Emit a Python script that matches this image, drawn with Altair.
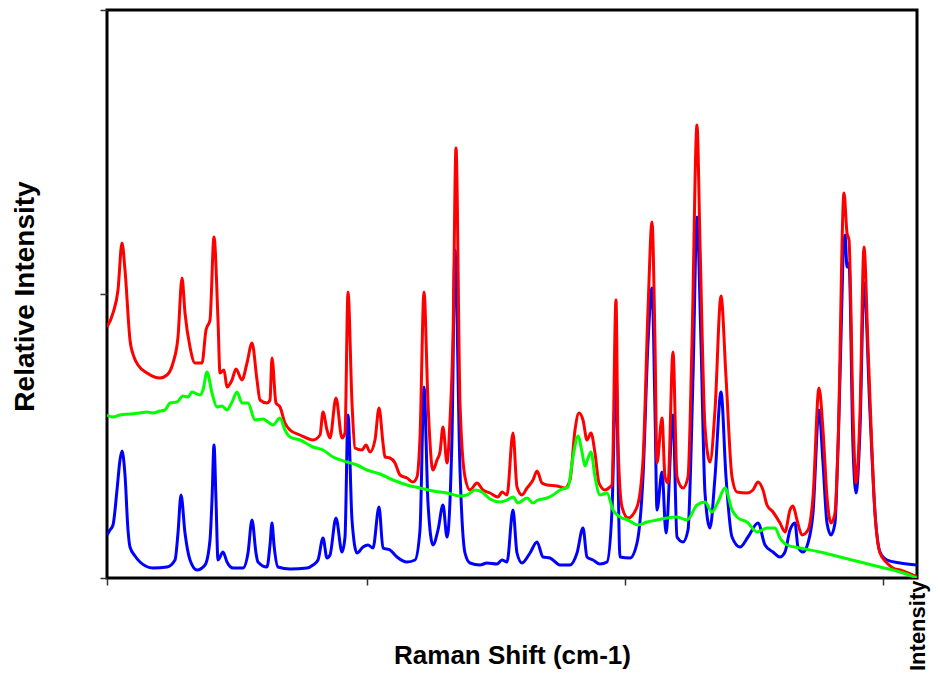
import altair as alt
import pandas as pd

# Raman shift (arbitrary units, ticks unlabeled) and relative intensity (arbitrary units)
red_shift = [0, 6, 11, 15, 18, 23, 27, 31, 40, 53, 60, 66, 71, 75, 78, 83, 88, 95, 99, 103,
             107, 111, 113, 117, 120, 125, 129, 135, 140, 145, 150, 153, 160, 163, 165, 169, 173, 178, 183, 193,
             206, 213, 216, 220, 223, 229, 235, 238, 241, 245, 248, 255, 259, 263, 268, 272, 276, 278, 283, 288,
             293, 300, 306, 310, 313, 317, 321, 325, 326, 330, 333, 336, 340, 343, 346, 349, 353, 358, 363, 370,
             376, 383, 391, 395, 400, 406, 410, 415, 420, 426, 430, 435, 440, 450, 458, 463, 468, 472, 476, 480,
             484, 488, 492, 498, 503, 505, 509, 511, 515, 521, 530, 536, 541, 545, 548, 550, 555, 558, 561, 566,
             570, 576, 581, 585, 590, 593, 598, 603, 608, 614, 619, 625, 630, 640, 646, 651, 656, 660, 666, 673,
             678, 683, 686, 690, 695, 701, 706, 712, 716, 720, 724, 728, 731, 737, 740, 742, 746, 749, 753, 757,
             761, 768, 773, 780, 786, 793, 801, 810]
red_int = [251, 265, 288, 335, 308, 238, 221, 213, 205, 200, 203, 215, 241, 300, 265, 231, 215, 215, 248, 258,
           341, 258, 205, 208, 191, 198, 209, 198, 215, 235, 198, 178, 175, 178, 220, 175, 171, 155, 148, 143,
           138, 143, 166, 148, 140, 180, 140, 145, 286, 175, 130, 128, 133, 126, 138, 170, 135, 121, 120, 115,
           103, 100, 96, 101, 141, 286, 175, 111, 108, 118, 126, 151, 115, 158, 241, 430, 175, 101, 88, 95,
           88, 85, 81, 86, 83, 145, 91, 83, 90, 98, 107, 95, 93, 92, 90, 98, 148, 165, 158, 138,
           145, 125, 95, 88, 91, 93, 278, 135, 71, 60, 71, 118, 268, 356, 235, 115, 160, 101, 95, 226,
           101, 90, 101, 235, 453, 335, 151, 116, 168, 282, 201, 101, 86, 85, 88, 96, 88, 73, 66, 55,
           46, 68, 72, 58, 43, 48, 81, 190, 148, 81, 55, 65, 131, 385, 345, 338, 165, 95, 165, 331,
           231, 65, 25, 15, 10, 8, 5, 1]

blue_shift = [0, 3, 6, 10, 13, 15, 18, 21, 23, 28, 33, 46, 60, 68, 71, 74, 78, 83, 90, 98,
              103, 105, 107, 109, 111, 116, 120, 126, 136, 141, 145, 149, 151, 160, 163, 165, 167, 171, 183, 200,
              206, 211, 216, 220, 223, 229, 235, 238, 241, 245, 250, 256, 261, 266, 272, 276, 283, 290, 300, 308,
              313, 317, 321, 326, 331, 336, 340, 345, 348, 353, 358, 363, 373, 380, 390, 395, 400, 406, 410, 415,
              423, 430, 436, 443, 453, 463, 470, 476, 480, 486, 493, 500, 505, 509, 513, 523, 530, 536, 541, 545,
              548, 550, 555, 559, 566, 570, 576, 581, 586, 590, 594, 598, 603, 608, 614, 619, 625, 633, 641, 651,
              658, 666, 673, 678, 683, 688, 691, 696, 701, 706, 712, 716, 720, 724, 728, 731, 738, 740, 742, 746,
              749, 753, 757, 763, 768, 773, 780, 793, 810]
blue_int = [43, 48, 53, 88, 118, 127, 103, 48, 31, 22, 16, 10, 11, 18, 45, 83, 45, 18, 8, 13,
            38, 78, 133, 78, 18, 26, 16, 10, 10, 25, 58, 25, 16, 11, 33, 55, 33, 11, 9, 10,
            13, 18, 40, 20, 23, 60, 26, 41, 163, 58, 25, 31, 33, 30, 71, 30, 28, 21, 16, 18,
            48, 191, 75, 33, 48, 73, 41, 141, 328, 108, 25, 15, 13, 15, 14, 18, 16, 68, 25, 15,
            25, 36, 21, 20, 13, 13, 25, 50, 21, 18, 14, 16, 68, 205, 21, 20, 35, 101, 235, 290,
            168, 68, 106, 45, 163, 41, 36, 48, 201, 361, 235, 85, 50, 101, 186, 101, 41, 31, 41, 55,
            33, 26, 21, 26, 48, 55, 31, 26, 35, 65, 168, 115, 55, 43, 55, 131, 343, 311, 315, 131,
            85, 148, 295, 165, 65, 26, 18, 15, 13]

green_shift = [0, 6, 13, 23, 33, 40, 46, 53, 58, 63, 70, 76, 81, 85, 93, 96, 100, 105, 110, 115,
               120, 125, 130, 135, 141, 148, 156, 161, 166, 173, 178, 183, 193, 206, 216, 226, 240, 250, 260, 273,
               286, 300, 313, 326, 340, 353, 360, 368, 375, 383, 393, 400, 406, 411, 420, 426, 431, 440, 446, 453,
               461, 466, 471, 475, 478, 481, 484, 488, 493, 500, 506, 513, 521, 531, 540, 550, 560, 570, 580, 590,
               598, 605, 611, 618, 625, 631, 640, 650, 660, 668, 673, 680, 693, 713, 733, 753, 773, 793, 810]
green_int = [163, 161, 163, 164, 165, 166, 165, 167, 168, 175, 176, 182, 181, 186, 183, 188, 206, 185, 171, 172,
             168, 176, 186, 175, 175, 158, 159, 156, 153, 160, 148, 141, 138, 131, 128, 121, 116, 113, 108, 104,
             98, 93, 90, 87, 85, 82, 83, 88, 86, 79, 76, 78, 81, 75, 80, 75, 78, 80, 83, 88,
             91, 121, 142, 126, 112, 120, 126, 101, 83, 85, 68, 61, 58, 53, 56, 58, 60, 61, 58, 73,
             76, 66, 76, 90, 68, 60, 56, 46, 50, 50, 40, 33, 30, 26, 21, 16, 11, 6, 0]

x_ticks = [0, 260, 518, 776]
y_ticks = [0, 284, 568]

FONT = "Liberation Sans"

x_axis = alt.Axis(values=x_ticks, labels=False, domain=False, grid=False, ticks=True,
                  tickSize=7, tickWidth=1.5, tickColor="#333333",
                  title="Raman Shift (cm-1)", titleFont=FONT, titleFontSize=26,
                  titleFontWeight="bold", titleColor="black",
                  titleX=405, titleY=85, titleAlign="center", titleBaseline="alphabetic")
y_axis = alt.Axis(values=y_ticks, labels=False, domain=False, grid=False, ticks=True,
                  tickSize=7, tickWidth=1.5, tickColor="#333333",
                  title="Relative Intensity", titleFont=FONT, titleFontSize=28,
                  titleFontWeight="bold", titleColor="black", titleAngle=270,
                  titleX=-74, titleY=286, titleAlign="center", titleBaseline="alphabetic")

x_scale = alt.Scale(domain=[0, 810], nice=False, zero=False)
y_scale = alt.Scale(domain=[0, 568], nice=False, zero=False)


def series(xs, ys, color):
    df = pd.DataFrame({"shift": xs, "intensity": ys})
    return alt.Chart(df).mark_line(color=color, strokeWidth=3, interpolate="monotone",
                                   clip=True).encode(
        x=alt.X("shift:Q", scale=x_scale, axis=x_axis),
        y=alt.Y("intensity:Q", scale=y_scale, axis=y_axis),
    )


label = alt.Chart(pd.DataFrame({"t": ["Intensity"]})).mark_text(
    angle=270, align="left", baseline="alphabetic", fontSize=22, fontWeight="bold",
    font=FONT, color="black"
).encode(text="t:N", x=alt.value(818), y=alt.value(661))

chart = alt.layer(
    series(blue_shift, blue_int, "#0000FF"),
    series(red_shift, red_int, "#FF0000"),
    series(green_shift, green_int, "#00FF00"),
    label,
).properties(
    width=810, height=568,
    autosize=alt.AutoSizeParams(type="none"),
    padding={"left": 99, "top": 2, "right": 15, "bottom": 95},
).configure_view(stroke="black", strokeWidth=3)

chart.save("out.html", embed_options={"renderer": "svg", "actions": False})
